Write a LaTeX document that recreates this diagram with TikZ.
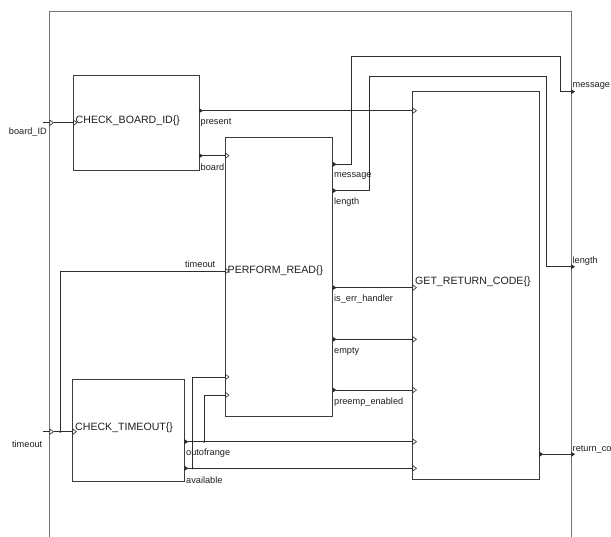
\documentclass[tikz,border=0pt]{standalone}
\usepackage{fontspec}
\setmainfont{Liberation Sans}
\usetikzlibrary{arrows.meta, calc}
\definecolor{mywire}{RGB}{45,45,45}
\definecolor{mybox}{RGB}{60,60,60}
\definecolor{myframe}{RGB}{115,115,115}
\definecolor{mytext}{RGB}{30,30,30}
\tikzset{
  intip/.tip={Triangle[open, length=4.5pt, width=6.5pt, line width=0.6pt]},
  outtip/.tip={Triangle[reversed, length=4pt, width=5pt]},
  extip/.tip={Triangle[length=4pt, width=5pt]},
  block/.style={rectangle, draw=mybox, line width=0.8pt, anchor=north west, inner sep=0pt, outer sep=0pt},
  title/.style={font=\fontsize{10.6}{12}\selectfont, anchor=west, inner sep=0pt, text=mytext},
  lbl/.style={font=\fontsize{9.2}{10}\selectfont, anchor=west, inner sep=0pt, text=mytext},
  wire/.style={line width=0.8pt, color=mywire},
  link/.style={wire, outtip-intip, shorten >=-4.5pt},
  feed/.style={wire, -intip, shorten >=-4.5pt},
  export/.style={wire, outtip-extip, shorten >=-4pt},
  frame/.style={line width=1pt, color=myframe}
}

\begin{document}
\begin{tikzpicture}[x=1pt, y=-1pt]
  \useasboundingbox (0,0) rectangle (611,537);
  % Frame
  \draw[frame] (49.5,545) -- (49.5,11.5) -- (571,11.5) -- (571,545);

  % Blocks
  \node[block, minimum width=126pt, minimum height=95pt] (cbid) at (73,75.7) {};
  \node[block, minimum width=107.5pt, minimum height=279pt] (pread) at (225,137) {};
  \node[block, minimum width=111.8pt, minimum height=102.4pt] (ctime) at (72.5,379.3) {};
  \node[block, minimum width=126.8pt, minimum height=387.6pt] (grc) at (412.5,91.7) {};
  \node[title] (cbid-title) at (75.5,121) {CHECK\_BOARD\_ID\{\}};
  \node[title] (pread-title) at (227.5,271) {PERFORM\_READ\{\}};
  \node[title] (ctime-title) at (75,427.7) {CHECK\_TIMEOUT\{\}};
  \node[title] (grc-title) at (415,281.7) {GET\_RETURN\_CODE\{\}};

  % Ports
  \coordinate (cbid-in) at ([yshift=-47pt]cbid.north west);
  \coordinate (cbid-present) at ([yshift=-35pt]cbid.north east);
  \coordinate (cbid-board) at ([yshift=-80pt]cbid.north east);
  \coordinate (pread-board) at ([yshift=-18.7pt]pread.north west);
  \coordinate (pread-timeout) at ([yshift=-134pt]pread.north west);
  \coordinate (pread-avail) at ([yshift=-240pt]pread.north west);
  \coordinate (pread-range) at ([yshift=-258pt]pread.north west);
  \coordinate (pread-msg) at ([yshift=-27.3pt]pread.north east);
  \coordinate (pread-len) at ([yshift=-53.7pt]pread.north east);
  \coordinate (pread-err) at ([yshift=-150.7pt]pread.north east);
  \coordinate (pread-empty) at ([yshift=-202.3pt]pread.north east);
  \coordinate (pread-preemp) at ([yshift=-253pt]pread.north east);
  \coordinate (ctime-in) at ([yshift=-52.4pt]ctime.north west);
  \coordinate (ctime-range) at ([yshift=-62.4pt]ctime.north east);
  \coordinate (ctime-avail) at ([yshift=-89pt]ctime.north east);
  \coordinate (grc-present) at ([yshift=-19pt]grc.north west);
  \coordinate (grc-err) at ([yshift=-196pt]grc.north west);
  \coordinate (grc-empty) at ([yshift=-247.6pt]grc.north west);
  \coordinate (grc-preemp) at ([yshift=-298.3pt]grc.north west);
  \coordinate (grc-range) at ([yshift=-350pt]grc.north west);
  \coordinate (grc-avail) at ([yshift=-376.6pt]grc.north west);
  \coordinate (grc-ret) at ([yshift=-362.6pt]grc.north east);
  \coordinate (st-board) at (43,122.7);
  \coordinate (fr-board) at (49.5,122.7);
  \coordinate (fr-board-tip) at (54,122.7);
  \coordinate (st-time) at (43,431.7);
  \coordinate (fr-time) at (49.5,431.7);
  \coordinate (fr-time-tip) at (54,431.7);
  \coordinate (fr-msg) at (571,91.7);
  \coordinate (fr-len) at (571,266.7);
  \coordinate (fr-ret) at (571,454.3);
  \coordinate (j-time) at (60.3,431.7);
  \coordinate (j-range) at (204,441.7);
  \coordinate (j-avail) at (192.7,468.3);

  % Inputs
  \draw[feed] (st-board) -- (fr-board);
  \draw[feed] (fr-board-tip) -- (cbid-in);
  \draw[feed] (st-time) -- (fr-time);
  \draw[feed] (fr-time-tip) -- (ctime-in);
  \draw[feed] (j-time) |- (pread-timeout);
  \fill[mywire] (j-time) circle (1.2pt);
  \node[lbl, anchor=east] (board-id-lbl) at (47,131.7) {board\_ID};
  \node[lbl, anchor=east] (timeout-lbl) at (42.5,444) {timeout};
  \node[lbl, anchor=east] (timeout-lbl2) at (215.5,264) {timeout};

  % Check board ID
  \draw[link] (cbid-present) -- (grc-present);
  \draw[link] (cbid-board) -- (pread-board);
  \node[lbl] (present-lbl) at (200.5,122.3) {present};
  \node[lbl] (board-lbl) at (200.5,167.3) {board};

  % Perform read
  \draw[export] (pread-msg) -| (351.7,56.7) -| (560,91.7) -- (fr-msg);
  \draw[export] (pread-len) -| (369.3,76) -| (546,266.7) -- (fr-len);
  \draw[link] (pread-err) -- (grc-err);
  \draw[link] (pread-empty) -- (grc-empty);
  \draw[link] (pread-preemp) -- (grc-preemp);
  \node[lbl] (msg-lbl) at (334,176) {message};
  \node[lbl] (len-lbl) at (334,202.3) {length};
  \node[lbl] (err-lbl) at (334,299.5) {is\_err\_handler};
  \node[lbl] (empty-lbl) at (334,351) {empty};
  \node[lbl] (preemp-lbl) at (334,402) {preemp\_enabled};

  % Check timeout
  \draw[link] (ctime-range) -- (grc-range);
  \draw[link] (ctime-avail) -- (grc-avail);
  \draw[feed] (j-range) |- (pread-range);
  \draw[feed] (j-avail) |- (pread-avail);
  \fill[mywire] (j-range) circle (1.2pt);
  \fill[mywire] (j-avail) circle (1.2pt);
  \node[lbl] (range-lbl) at (186,453.3) {outofrange};
  \node[lbl] (avail-lbl) at (186,480) {available};

  % Get return code
  \draw[export] (grc-ret) -- (fr-ret);
  \node[lbl] (fr-msg-lbl) at (572.5,85.7) {message};
  \node[lbl] (fr-len-lbl) at (572.5,261) {length};
  \node[lbl] (fr-ret-lbl) at (572.5,449) {return\_code};
\end{tikzpicture}
\end{document}
